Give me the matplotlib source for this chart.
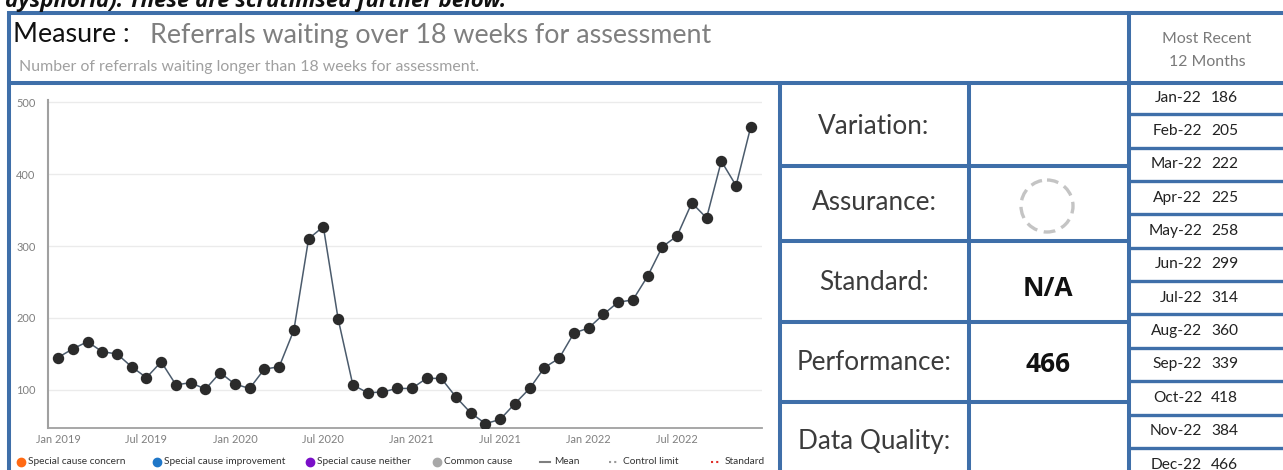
# SPC summary card: referrals waiting over 18 weeks for assessment.
# Chart on the left, summary table in the middle, last 12 months on the right.

import matplotlib
matplotlib.use("Agg")
import matplotlib.pyplot as plt
from matplotlib.patches import Circle

# ---- data -----------------------------------------------------------------
months = [
    "Jan-19", "Feb-19", "Mar-19", "Apr-19", "May-19", "Jun-19",
    "Jul-19", "Aug-19", "Sep-19", "Oct-19", "Nov-19", "Dec-19",
    "Jan-20", "Feb-20", "Mar-20", "Apr-20", "May-20", "Jun-20",
    "Jul-20", "Aug-20", "Sep-20", "Oct-20", "Nov-20", "Dec-20",
    "Jan-21", "Feb-21", "Mar-21", "Apr-21", "May-21", "Jun-21",
    "Jul-21", "Aug-21", "Sep-21", "Oct-21", "Nov-21", "Dec-21",
    "Jan-22", "Feb-22", "Mar-22", "Apr-22", "May-22", "Jun-22",
    "Jul-22", "Aug-22", "Sep-22", "Oct-22", "Nov-22", "Dec-22",
]
referrals = [
    145, 157, 167, 153, 150, 132, 117, 139, 107, 110, 101, 124,
    108, 102, 129, 132, 183, 310, 327, 199, 107, 96, 97, 102,
    102, 116, 116, 90, 68, 53, 59, 81, 102, 131, 144, 179,
    186, 205, 222, 225, 258, 299, 314, 360, 339, 418, 384, 466,
]
xtick_idx = [0, 6, 12, 18, 24, 30, 36, 42]
xtick_labels = ["Jan 2019", "Jul 2019", "Jan 2020", "Jul 2020",
                "Jan 2021", "Jul 2021", "Jan 2022", "Jul 2022"]
yticks = [100, 200, 300, 400, 500]

legend_labels = ["Special cause concern", "Special cause improvement",
                 "Special cause neither", "Common cause",
                 "Mean", "Control limit", "Standard"]

summary_labels = ["Variation:", "Assurance:", "Standard:",
                  "Performance:", "Data Quality:"]
standard_value = "N/A"

BLUE = "#3f6fa9"
FONT = "Lato"

W, H = 1283, 470
fig = plt.figure(figsize=(W / 100, H / 100), dpi=100)

# overlay in pixel coordinates for the frame and the text
bg = fig.add_axes([0, 0, 1, 1], zorder=0)
bg.set_xlim(0, W)
bg.set_ylim(H, 0)
bg.axis("off")

def hline(y, x0, x1, lw=2.9):
    bg.plot([x0, x1], [y, y], color=BLUE, lw=lw, solid_capstyle="butt")

def vline(x, y0, y1, lw=2.9):
    bg.plot([x, x], [y0, y1], color=BLUE, lw=lw, solid_capstyle="butt")

# frame
hline(13, 8, W)
hline(83, 8, W)
vline(9, 11, H)
vline(780, 83, H)
vline(969, 83, H)
vline(1129, 11, H)
for y in [166, 241, 322, 402]:
    hline(y, 780, 1129)
row_h = 33.35
for i in range(1, 12):
    hline(81 + i * row_h, 1129, W, lw=2.4)

# cut-off sentence above the card (the reference crops it too)
bg.text(5, 6.5, "dysphoria). These are scrutinised further below.",
        fontsize=16, fontweight="bold", fontstyle="italic",
        family="Open Sans", va="baseline", ha="left", color="#111111")

# title block
bg.text(13, 35, "Measure :", fontsize=19.4, family=FONT, color="#111111",
        va="center", ha="left")
bg.text(150, 35, "Referrals waiting over 18 weeks for assessment",
        fontsize=19.4, family=FONT, color="#7f7f7f", va="center", ha="left")
bg.text(19, 67, "Number of referrals waiting longer than 18 weeks for assessment.",
        fontsize=11.4, family=FONT, color="#a0a0a0", va="center", ha="left")

# summary table
label_y = [127, 203, 283, 362, 442]
for lab, y in zip(summary_labels, label_y):
    bg.text(874, y, lab, fontsize=18.8, family=FONT,
            color="#3c3c3c", ha="center", va="center")
bg.add_patch(Circle((1047, 206), 26, fill=False, ec="#c4c4c4", lw=2.4,
                    ls=(0, (3.5, 2))))
bg.text(1048, 288, standard_value, fontsize=19, family="Open Sans",
        fontweight="bold", color="#111111", ha="center", va="center")
bg.text(1048, 364, str(referrals[-1]), fontsize=19, family="Open Sans",
        fontweight="bold", color="#111111", ha="center", va="center")

# most recent 12 months
bg.text(1207, 39, "Most Recent", fontsize=11.4, family=FONT,
        color="#7a7a7a", ha="center", va="center")
bg.text(1207, 62, "12 Months", fontsize=11.4, family=FONT,
        color="#7a7a7a", ha="center", va="center")
for i, (m, v) in enumerate(zip(months[-12:], referrals[-12:])):
    yc = 81 + (i + 0.5) * row_h
    bg.text(1202, yc, m, fontsize=11.2, family=FONT, color="#222222",
            ha="right", va="center")
    bg.text(1211, yc, str(v), fontsize=11.2, family=FONT, color="#222222",
            ha="left", va="center")

# legend row under the chart
leg_x = [21, 157, 310, 437, 545, 614, 716]
dot_colors = ["#ff6a13", "#1f77c8", "#7a0fc8", "#a8a8a8"]
for i, (lab, x) in enumerate(zip(legend_labels, leg_x)):
    if i < 4:
        bg.plot(x, 462, "o", ms=6, color=dot_colors[i])
        tx = x + 7
    elif lab == "Mean":
        bg.plot([x - 5, x + 5], [462, 462], color="#7f7f7f", lw=1.5)
        tx = x + 9
    else:
        col = "#9a9a9a" if lab == "Control limit" else "#e0302a"
        bg.plot([x - 5, x + 5], [462, 462], color=col, lw=1.5, ls=(0, (1, 1.5)))
        tx = x + 9
    bg.text(tx, 462, lab, fontsize=7.3, family=FONT, color="#333333",
            ha="left", va="center")

# ---- the run chart --------------------------------------------------------
ax = fig.add_axes([48 / W, (H - 428) / H, (762 - 48) / W, (428 - 100) / H],
                  zorder=1)
ax.patch.set_alpha(0)
x = list(range(len(referrals)))
ax.plot(x, referrals, color="#4b5b6c", lw=1.1, marker="o", ms=7.2,
        mfc="#2b2b2b", mec="#2b2b2b", zorder=3)

ax.set_xlim(-0.68, 47.76)
ax.set_ylim(47, 503)
ax.set_yticks(yticks)
ax.set_xticks(xtick_idx)
ax.set_xticklabels(xtick_labels)
ax.grid(axis="y", color="#ebebeb", lw=1)
ax.set_axisbelow(True)
for side in ["top", "right"]:
    ax.spines[side].set_visible(False)
ax.spines["left"].set_color("#a0a0a0")
ax.spines["left"].set_linewidth(1.5)
ax.spines["bottom"].set_color("#a0a0a0")
ax.spines["bottom"].set_linewidth(1.3)
ax.tick_params(length=0, labelsize=7.9, labelcolor="#7f7f7f", pad=4)
ax.tick_params(axis="y", pad=9)
for t in ax.get_xticklabels() + ax.get_yticklabels():
    t.set_family(FONT)

fig.savefig("out.png", dpi=100)
